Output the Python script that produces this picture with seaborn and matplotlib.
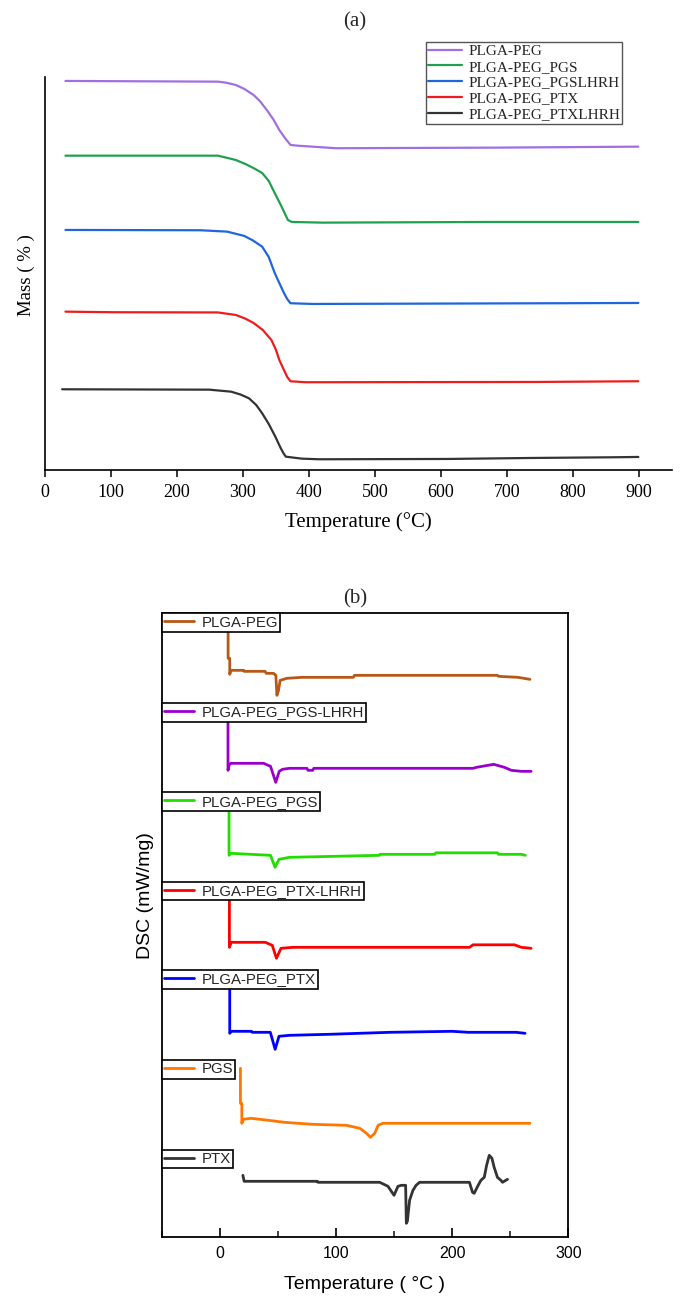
import matplotlib
matplotlib.use("Agg")
import matplotlib.pyplot as plt
import seaborn as sns
from matplotlib.legend import Legend

SERIF = ["Liberation Serif", "DejaVu Serif"]
SANS = ["Liberation Sans", "DejaVu Sans"]

# ---- (a) TGA curves: temperature (°C) vs stacked mass (arbitrary offset units)
tga_names = ["PLGA-PEG", "PLGA-PEG_PGS", "PLGA-PEG_PGSLHRH", "PLGA-PEG_PTX", "PLGA-PEG_PTXLHRH"]
tga_colors = ["#A070E0", "#20A050", "#1F66DD", "#EE1C1C", "#333333"]

peg_temp = [31, 262, 275, 289, 302, 316, 326, 336, 346, 355, 364, 372, 382, 441, 680, 899]
peg_mass = [98.98, 98.80, 98.52, 97.96, 96.95, 95.42, 93.77, 91.60, 89.19, 86.51, 84.35,
            82.70, 82.52, 81.86, 82.01, 82.26]

pgs_temp = [31, 262, 289, 305, 317, 329, 339, 348, 358, 363, 368, 374, 421, 680, 899]
pgs_mass = [79.97, 79.97, 78.88, 77.74, 76.72, 75.57, 73.54, 70.48, 67.18, 65.39, 63.61,
            63.10, 62.93, 63.10, 63.10]

pgslhrh_temp = [31, 236, 276, 302, 315, 329, 339, 348, 355, 362, 367, 372, 405, 775, 899]
pgslhrh_mass = [61.07, 60.99, 60.64, 59.54, 58.40, 56.82, 54.20, 50.13, 47.58, 45.04,
                43.51, 42.42, 42.24, 42.42, 42.49]

ptx_temp = [31, 104, 262, 289, 303, 316, 330, 343, 350, 355, 362, 367, 372, 395, 742, 899]
ptx_mass = [40.28, 40.13, 40.08, 39.44, 38.55, 37.40, 35.62, 33.08, 30.53, 27.99, 25.45,
            23.66, 22.57, 22.32, 22.39, 22.57]

ptxlhrh_temp = [26, 249, 282, 296, 309, 320, 329, 339, 349, 357, 362, 365, 389, 415, 610,
                736, 862, 899]
ptxlhrh_mass = [20.53, 20.43, 19.92, 19.21, 18.24, 16.54, 14.43, 11.70, 8.47, 5.60, 4.07,
                3.38, 2.88, 2.72, 2.80, 3.05, 3.23, 3.31]

tga_temps = [peg_temp, pgs_temp, pgslhrh_temp, ptx_temp, ptxlhrh_temp]
tga_masses = [peg_mass, pgs_mass, pgslhrh_mass, ptx_mass, ptxlhrh_mass]

# ---- (b) DSC curves: temperature (°C) vs stacked heat flow (arbitrary offset units)
dsc_names = ["PLGA-PEG", "PLGA-PEG_PGS-LHRH", "PLGA-PEG_PGS", "PLGA-PEG_PTX-LHRH",
             "PLGA-PEG_PTX", "PGS", "PTX"]
dsc_colors = ["#B85818", "#9900CC", "#22DD00", "#FF0000", "#0000FF", "#FF7700", "#333333"]

d_peg_t = [7.2, 7.2, 8.6, 8.6, 9.6, 20.6, 21, 39, 40, 46.3, 48.3, 49.2, 50.6, 52, 57.7,
           70.6, 115, 116, 239, 240, 256.7, 267]
d_peg_y = [61.0, 57.9, 57.9, 56.3, 56.7, 56.7, 56.6, 56.6, 56.4, 56.4, 56.2, 54.2, 54.7,
           55.7, 55.9, 56.0, 56.0, 56.2, 56.2, 56.1, 56.0, 55.8]

d_pgslhrh_t = [7.1, 7.1, 8, 9.5, 37.8, 43.7, 48.2, 51.2, 54, 60, 75, 76, 80, 81, 218,
               221, 235.8, 245, 251, 259.6, 268]
d_pgslhrh_y = [52.0, 46.7, 47.2, 47.4, 47.4, 47.1, 45.5, 46.6, 46.8, 46.9, 46.9, 46.7,
               46.7, 46.9, 46.9, 47.0, 47.3, 47.0, 46.7, 46.6, 46.6]

d_pgs_t = [8, 8, 9.5, 43.7, 47.6, 51, 60, 137.5, 138, 185, 186, 239, 240, 259.6, 263]
d_pgs_y = [43.0, 38.2, 38.4, 38.2, 37.0, 37.8, 38.0, 38.2, 38.3, 38.3, 38.45, 38.45,
           38.3, 38.3, 38.2]

d_ptxlhrh_t = [8.3, 8.3, 9.9, 39.3, 45.2, 48.8, 52.7, 63, 215, 218, 253.7, 259.6, 268]
d_ptxlhrh_y = [34.0, 29.0, 29.5, 29.5, 29.2, 27.9, 28.9, 29.0, 29.0, 29.25, 29.25, 29.0, 28.9]

d_ptx_t = [8.6, 8.6, 10, 27.3, 28, 43.5, 47.7, 51, 60, 94, 146.5, 200, 214, 255, 262.8]
d_ptx_y = [25.0, 20.4, 20.6, 20.6, 20.5, 20.5, 18.8, 20.1, 20.2, 20.3, 20.5, 20.6,
           20.5, 20.5, 20.4]

d_pgsonly_t = [17.8, 17.8, 19, 19, 20.5, 27, 42, 55.6, 79.4, 109, 120.6, 126.3, 129.7,
               133.4, 136.3, 140.5, 267]
d_pgsonly_y = [16.9, 13.4, 13.4, 11.4, 11.8, 11.9, 11.7, 11.5, 11.3, 11.2, 10.9, 10.4,
               10.0, 10.4, 11.2, 11.4, 11.4]

d_ptxonly_t = [19.9, 21, 84, 84.6, 137.7, 144.8, 150, 153.4, 156.3, 160, 160.6, 161.5,
               163.4, 166.3, 169, 172, 214.9, 217.6, 219, 222, 224.8, 227.7, 229.7, 232,
               234.3, 236.2, 239, 242, 243.4, 247.7]
d_ptxonly_y = [6.2, 5.6, 5.6, 5.5, 5.5, 5.1, 4.2, 5.1, 5.2, 5.2, 1.4, 1.6, 3.7, 4.7, 5.2,
               5.5, 5.5, 4.5, 4.4, 5.1, 5.7, 6.0, 7.2, 8.2, 7.9, 7.0, 6.0, 5.7, 5.5, 5.8]

dsc_temps = [d_peg_t, d_pgslhrh_t, d_pgs_t, d_ptxlhrh_t, d_ptx_t, d_pgsonly_t, d_ptxonly_t]
dsc_values = [d_peg_y, d_pgslhrh_y, d_pgs_y, d_ptxlhrh_y, d_ptx_y, d_pgsonly_y, d_ptxonly_y]

# top edge of each per-curve legend box, in axes fraction
dsc_legend_tops = [1.0, 0.856, 0.713, 0.570, 0.428, 0.284, 0.140]

sns.set_theme(style="white")
plt.rcParams["font.family"] = SERIF

fig = plt.figure(figsize=(6.85, 13.04), dpi=100)
ax1 = fig.add_axes([0.0657, 0.6396, 0.9153, 0.3014])
ax2 = fig.add_axes([0.236, 0.05115, 0.5936, 0.4785])

# ---------------- panel (a)
for name, t, m, c in zip(tga_names, tga_temps, tga_masses, tga_colors):
    sns.lineplot(x=t, y=m, ax=ax1, color=c, lw=1.6, label=name,
                 estimator=None, sort=False)

ax1.set_xlim(0, 950)
ax1.set_ylim(0, 100)
ax1.set_xticks(range(0, 901, 100))
ax1.set_yticks([])
for side in ["top", "right"]:
    ax1.spines[side].set_visible(False)
for side in ["left", "bottom"]:
    ax1.spines[side].set_color("black")
    ax1.spines[side].set_linewidth(1.2)
ax1.tick_params(axis="x", direction="out", length=5, width=1.1, pad=5,
                labelsize=13, colors="black", bottom=True)
ax1.set_xlabel("Temperature (°C)", fontsize=15, labelpad=8, color="black")
ax1.set_ylabel("Mass ( % )", fontsize=13.5, color="black")
ax1.yaxis.set_label_coords(-0.016, 0.496)

leg1 = ax1.legend(loc="upper left", bbox_to_anchor=(0.6077, 1.089), borderaxespad=0,
                  prop={"family": SERIF, "size": 11}, frameon=True, fancybox=False,
                  edgecolor="#555555", framealpha=1, handlelength=2.2,
                  handletextpad=0.4, borderpad=0.15, labelspacing=0.14)
leg1.get_frame().set_linewidth(1.0)

# ---------------- panel (b)
for name, t, v, c in zip(dsc_names, dsc_temps, dsc_values, dsc_colors):
    sns.lineplot(x=t, y=v, ax=ax2, color=c, lw=2.0, legend=False,
                 estimator=None, sort=False)

for line, name, top in zip(ax2.get_lines(), dsc_names, dsc_legend_tops):
    leg = Legend(ax2, [line], [name], loc="upper left", bbox_to_anchor=(0, top),
                 borderaxespad=0, frameon=True, fancybox=False, edgecolor="black",
                 framealpha=1, prop={"family": SANS, "size": 10.8},
                 handlelength=2.0, handletextpad=0.5, borderpad=0.15)
    leg.get_frame().set_linewidth(1.2)
    ax2.add_artist(leg)

ax2.set_xlim(-50, 300)
ax2.set_ylim(0, 62.4)
ax2.set_xticks([0, 100, 200, 300])
ax2.set_xticks([-50, 50, 150, 250], minor=True)
ax2.set_yticks([])
for side in ax2.spines.values():
    side.set_visible(True)
    side.set_color("black")
    side.set_linewidth(1.3)
ax2.tick_params(axis="x", which="major", direction="in", length=6.5, width=1.2, pad=6,
                labelsize=11.5, labelfontfamily="Liberation Sans", colors="black",
                bottom=True)
ax2.tick_params(axis="x", which="minor", direction="in", length=4, width=1.2,
                bottom=True)
ax2.set_xlabel("Temperature ( °C )", fontsize=14, family=SANS, labelpad=11,
               color="black")
ax2.set_ylabel("DSC (mW/mg)", fontsize=14, family=SANS, color="black")
ax2.yaxis.set_label_coords(-0.019, 0.547)

fig.text(355 / 685, 1 - 22 / 1304, "(a)", ha="center", va="center", fontsize=15,
         family=SERIF)
fig.text(355 / 685, 1 - 599 / 1304, "(b)", ha="center", va="center", fontsize=15,
         family=SERIF)

fig.savefig("out.png", dpi=100, facecolor="white")
